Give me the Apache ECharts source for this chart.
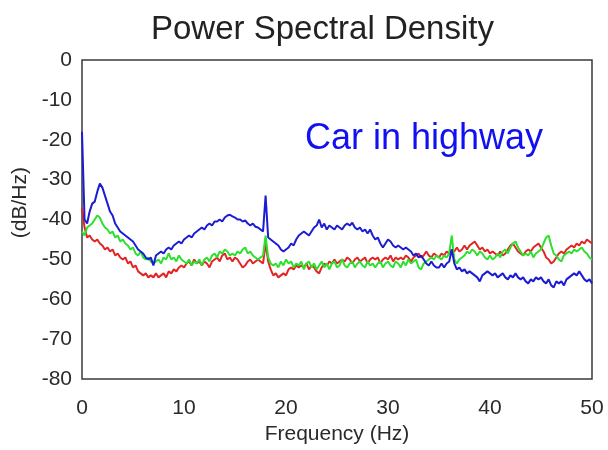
<!DOCTYPE html>
<html lang="en">
<head>
    <meta charset="UTF-8">
    <title>Power Spectral Density</title>
    <script src="https://cdn.jsdelivr.net/npm/echarts@6/dist/echarts.min.js"></script>
    <style>
        html, body { margin: 0; padding: 0; background: #fff; }
        #chart { width: 608px; height: 450px; }
    </style>
</head>
<body>
    <div id="chart"></div>

    <script>
        // frequency grid (Hz), 0.25 Hz steps
        const freq = [
            0,0.25,0.5,0.75, 1,1.25,1.5,1.75, 2,2.25,2.5,2.75, 3,3.25,3.5,3.75, 4,4.25,4.5,4.75,
            5,5.25,5.5,5.75, 6,6.25,6.5,6.75, 7,7.25,7.5,7.75, 8,8.25,8.5,8.75, 9,9.25,9.5,9.75,
            10,10.25,10.5,10.75, 11,11.25,11.5,11.75, 12,12.25,12.5,12.75, 13,13.25,13.5,13.75, 14,14.25,14.5,14.75,
            15,15.25,15.5,15.75, 16,16.25,16.5,16.75, 17,17.25,17.5,17.75, 18,18.25,18.5,18.75, 19,19.25,19.5,19.75,
            20,20.25,20.5,20.75, 21,21.25,21.5,21.75, 22,22.25,22.5,22.75, 23,23.25,23.5,23.75, 24,24.25,24.5,24.75,
            25,25.25,25.5,25.75, 26,26.25,26.5,26.75, 27,27.25,27.5,27.75, 28,28.25,28.5,28.75, 29,29.25,29.5,29.75,
            30,30.25,30.5,30.75, 31,31.25,31.5,31.75, 32,32.25,32.5,32.75, 33,33.25,33.5,33.75, 34,34.25,34.5,34.75,
            35,35.25,35.5,35.75, 36,36.25,36.5,36.75, 37,37.25,37.5,37.75, 38,38.25,38.5,38.75, 39,39.25,39.5,39.75,
            40,40.25,40.5,40.75, 41,41.25,41.5,41.75, 42,42.25,42.5,42.75, 43,43.25,43.5,43.75, 44,44.25,44.5,44.75,
            45,45.25,45.5,45.75, 46,46.25,46.5,46.75, 47,47.25,47.5,47.75, 48,48.25,48.5,48.75, 49,49.25,49.5,49.75,
            50
        ];

        const blueDb = [
            -18,-40,-41,-38, -36,-35.5,-33,-31, -32,-34,-36,-38, -39,-41,-42,-43, -43.5,-44,-44.5,-45,
            -45.5,-46.5,-47.5,-48, -48.5,-49.5,-50,-49.5, -51.5,-49,-48.5,-48, -48.5,-47.5,-47,-47.5, -46.5,-46,-45.5,-46,
            -45,-44.5,-44,-44.5, -43.5,-43,-42.5,-42, -42.5,-41.5,-41,-41.5, -40.5,-40.5,-40,-40.5, -39.5,-39,-38.8,-39.2,
            -39.5,-40,-40,-40.5, -40.2,-41,-41.5,-41, -41.8,-42,-42.5,-43, -34,-44.5,-45,-45.5, -46,-46.5,-47.5,-48,
            -47.5,-47,-46,-46.5, -45,-44,-43.5,-43, -43.5,-44,-43,-42, -41.5,-40,-42,-41, -42.5,-41.5,-42,-42.5,
            -41.5,-42,-42.5,-41.5, -41,-41.5,-40.8,-42, -42.5,-42,-43,-42.5, -43.5,-42.5,-44,-45, -44.5,-46,-47,-46,
            -45,-45.5,-46.5,-47, -46.5,-47,-47.5,-47, -47.5,-48,-49,-48.5, -49.5,-49,-50,-51, -51.5,-50.5,-51.5,-52,
            -52,-51,-52,-51, -50.5,-47.5,-51,-52.5, -52,-53,-52.5,-53.5, -53,-53.5,-54,-54.5, -55.5,-54,-53.5,-53,
            -53.5,-54,-53.5,-54.5, -54,-53.5,-54.5,-55, -54,-54.5,-53.5,-54.5, -55,-54.5,-55.5,-56, -55,-55.5,-54.5,-55,
            -54.5,-55.5,-56,-55, -56.5,-57,-55.5,-56, -55.5,-56.5,-55,-54.5, -54,-53.5,-54,-53, -54,-55,-55.5,-55,
            -56
        ];

        const greenDb = [
            -43,-44,-42,-41.5, -41,-40,-39,-39.5, -41,-42,-42.5,-43.5, -43,-44.5,-44,-45.5, -45,-46,-46.5,-47.5,
            -47,-48.5,-49,-48, -49.5,-50,-49.5,-50.5, -51,-50.5,-50,-51, -49.5,-50,-48.5,-50, -49.5,-50.5,-49,-50,
            -50.5,-51,-50,-51.5, -50.5,-51,-50,-51.5, -50,-49.5,-50.5,-49, -48.5,-49.5,-48,-48.5, -47.5,-48,-49,-48.5,
            -49,-48,-48.5,-47.5, -47,-48.5,-48,-49, -49.5,-50,-49.5,-49, -44,-49.5,-51,-51.5, -51,-52,-50.5,-51.5,
            -50,-51,-50.5,-52, -51,-51.5,-50.5,-52.5, -51,-50.5,-52,-51, -52.5,-51.5,-50.5,-52, -51,-52.5,-51,-50.5,
            -52,-51.5,-50,-51.5, -52,-51,-50.5,-52, -51,-50.5,-51.5,-52, -50.5,-51.5,-51,-52, -51,-50.5,-52,-51,
            -50.5,-51.5,-52,-50.5, -51,-52,-50.5,-51.5, -50,-51,-50.5,-50, -52,-52.5,-51,-50.5, -50,-49.5,-50,-49,
            -49.5,-50,-49,-49.5, -48.5,-44,-50,-51, -50,-49.5,-49,-48, -48.5,-47.5,-48,-49, -48,-48.5,-49.5,-50,
            -49,-50,-49.5,-48.5, -49.5,-48,-47.5,-48.5, -47,-46,-45.5,-47, -48,-49,-48.5,-49, -48,-49.5,-48.5,-48,
            -47.5,-46,-44.5,-44, -46.5,-48.5,-49,-50, -50.5,-49,-48.5,-48, -48.5,-47.5,-48,-47.5, -47,-48,-48.5,-49.5,
            -50
        ];

        const redDb = [
            -37,-42,-44.5,-44, -45,-45.5,-45,-46, -46.5,-47.5,-47,-48, -47.5,-49,-48.5,-49.5, -50,-49.5,-51,-50.5,
            -52,-51.5,-53,-53.5, -54,-53.5,-54.5,-54, -54.5,-53.5,-54.5,-54, -53.5,-54.5,-53,-53.5, -52.5,-53,-52,-51.5,
            -52,-51,-50.5,-51.5, -50,-51,-50.5,-51.5, -50.5,-51,-52,-50.5, -50,-49.5,-50.5,-49, -48.5,-50,-49.5,-50.5,
            -49.5,-50,-51,-52, -51.5,-50.5,-50,-51, -50.5,-50,-50.5,-51, -46,-50.5,-52.5,-54, -53.5,-54.5,-54,-53.5,
            -54,-52.5,-52,-52.5, -51.5,-52,-51.5,-52, -51,-52.5,-51.5,-52, -53,-53.5,-52,-51, -51.5,-50.5,-51,-50,
            -51,-50.5,-50,-50.5, -49.5,-50,-51,-50, -49.5,-50.5,-50,-49.5, -51,-50,-49.5,-50, -49.5,-51,-50,-49.5,
            -50,-49,-50.5,-49.5, -50,-49.5,-50,-49, -49.5,-50.5,-49.5,-49, -48.5,-49.5,-49,-48, -49,-49.5,-48.5,-49,
            -49.5,-48.5,-49,-48, -48.5,-47.5,-48,-47, -48,-47.5,-46.5,-47.5, -46.5,-46,-45.5,-46.5, -47.5,-47,-48,-47.5,
            -48.5,-48,-48.5,-49, -48,-49,-48.5,-47.5, -46.5,-46,-47,-48, -48.5,-49,-48,-47.5, -48,-47,-46.5,-46,
            -47,-48,-49.5,-50, -51,-50.5,-49.5,-48.5, -48,-48.5,-47.5,-47, -46.5,-47,-46,-46.5, -45.5,-46,-45,-45.5,
            -46
        ];

        const xTicks = [0, 10, 20, 30, 40, 50];
        const yTicks = [0, -10, -20, -30, -40, -50, -60, -70, -80];

        const font = 'Liberation Sans, Arial, Helvetica, sans-serif';
        const pairs = vals => freq.map((f, i) => [f, vals[i]]);

        const chart = echarts.init(document.getElementById('chart'), null, { renderer: 'canvas' });
        chart.setOption({
            animation: false,
            backgroundColor: '#fff',
            title: {
                text: 'Power Spectral Density',
                left: 146,
                top: 8,
                textStyle: { fontFamily: font, fontSize: 33, fontWeight: 'normal', color: '#222' }
            },
            grid: {
                left: 82, right: 16, top: 60, bottom: 70,
                show: true, borderColor: '#3a3a3a', borderWidth: 1.5, backgroundColor: '#fff'
            },
            xAxis: {
                type: 'value',
                min: xTicks[0], max: xTicks[xTicks.length - 1], interval: 10,
                name: 'Frequency (Hz)',
                nameLocation: 'middle',
                nameGap: 41,
                nameTextStyle: { fontFamily: font, fontSize: 21, color: '#2a2a2a' },
                axisLine: { show: false },
                axisTick: { show: false },
                splitLine: { show: false },
                axisLabel: { fontFamily: font, fontSize: 21, color: '#2a2a2a', margin: 19 }
            },
            yAxis: {
                type: 'value',
                min: yTicks[yTicks.length - 1], max: yTicks[0], interval: 10,
                axisLine: { show: false },
                axisTick: { show: false },
                splitLine: { show: false },
                axisLabel: { fontFamily: font, fontSize: 21, color: '#2a2a2a', margin: 10 }
            },
            graphic: [
                {
                    type: 'text', left: 10, top: 167, rotation: Math.PI / 2,
                    style: { text: '(dB/Hz)', font: '21px ' + font, fill: '#2a2a2a' }
                },
                {
                    type: 'text', left: 305, top: 121,
                    style: { text: 'Car in highway', font: '36px ' + font, fill: '#1010f0' }
                }
            ],
            series: [
                { name: 'red', type: 'line', data: pairs(redDb), showSymbol: false,
                  lineStyle: { color: '#e32424', width: 2 } },
                { name: 'green', type: 'line', data: pairs(greenDb), showSymbol: false,
                  lineStyle: { color: '#2ee02e', width: 2 } },
                { name: 'blue', type: 'line', data: pairs(blueDb), showSymbol: false,
                  lineStyle: { color: '#1c1cd2', width: 2 } }
            ]
        });
    </script>
</body>
</html>
